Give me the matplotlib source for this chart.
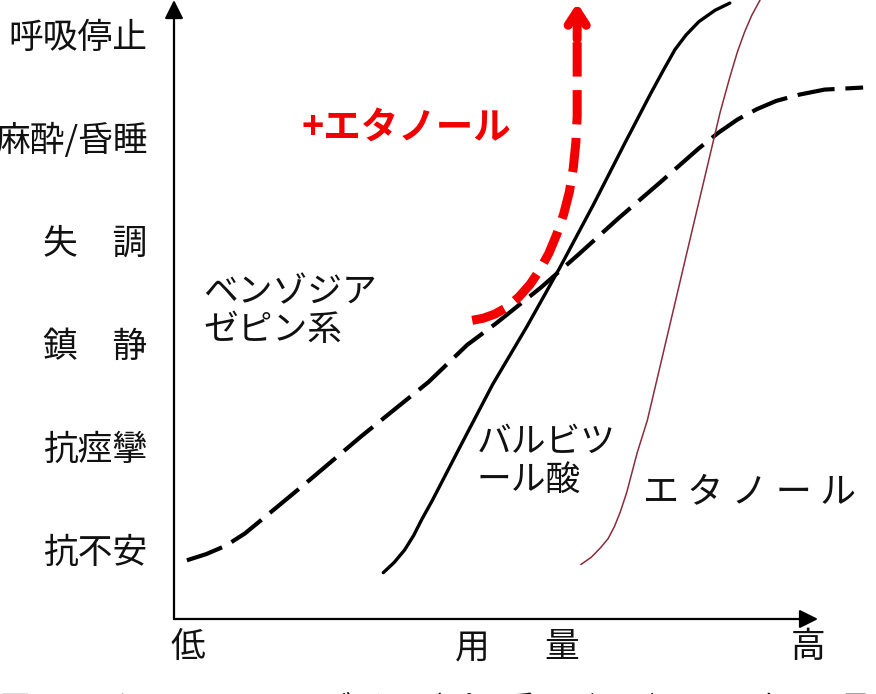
import matplotlib
matplotlib.use("Agg")
import matplotlib.pyplot as plt

plt.rcParams['font.family'] = ['Noto Sans CJK JP', 'DejaVu Sans']

## effect levels (y axis)
levels = [1, 2, 3, 4, 5, 6]
level_labels = ["抗不安", "抗痙攣", "鎮　静", "失　調", "麻酔/昏睡", "呼吸停止"]

## dose axis labels
dose_ticks = [0.22, 4.63, 6.02, 9.84]
dose_labels = ["低", "用", "量", "高"]

## benzodiazepine (dashed)
bzd_dose = [0.2, 0.5, 0.8, 1.1, 1.45, 2.05, 2.9, 3.95, 4.55, 5.0, 5.7, 6.3,
            6.9, 7.55, 8.15, 8.45, 8.75, 9.05, 9.35, 9.7, 10.1, 10.7]
bzd_effect = [0.89, 0.95, 1.03, 1.15, 1.33, 1.64, 2.09, 2.62, 2.98, 3.19, 3.54,
              3.87, 4.21, 4.56, 4.89, 5.04, 5.17, 5.27, 5.35, 5.41, 5.46, 5.48]

## barbiturate (solid)
barb_dose = [3.25, 3.42, 3.58, 3.72, 3.85, 4.01, 4.44, 4.95, 5.48, 5.99, 6.51,
             7.0, 7.4, 7.6, 7.78, 7.95, 8.15, 8.4, 8.63]
barb_effect = [0.77, 0.87, 0.99, 1.13, 1.29, 1.47, 1.99, 2.6, 3.16, 3.73, 4.34,
               4.94, 5.42, 5.65, 5.85, 5.99, 6.12, 6.23, 6.3]

## ethanol (thin)
eth_dose = [6.32, 6.48, 6.62, 6.74, 6.84, 6.93, 7.03, 7.19, 7.35, 8.01, 8.48,
            8.63, 8.75, 8.86, 8.97, 9.1]
eth_effect = [0.85, 0.92, 1.01, 1.1, 1.22, 1.36, 1.55, 1.93, 2.25, 4.0, 5.24,
              5.58, 5.83, 6.02, 6.18, 6.33]

## + ethanol (red arrow)
plus_dose = [4.63, 4.8, 4.98, 5.18, 5.36, 5.53, 5.68, 5.82, 5.94, 6.05, 6.14,
             6.2, 6.24, 6.26, 6.26, 6.26]
plus_effect = [3.22, 3.24, 3.28, 3.35, 3.45, 3.57, 3.71, 3.87, 4.05, 4.25, 4.47,
               4.7, 4.95, 5.2, 5.6, 5.95]
plus_tip = (6.26, 6.3)

Y0 = 0.32     # where the dose axis sits
X_END = 10.0  # tip of the dose axis

fig = plt.figure(figsize=(8.76, 6.94), dpi=100)
ax = fig.add_axes([174 / 876, 75 / 694, 702 / 876, 619 / 694])
ax.set_xlim(0, 10.9)
ax.set_ylim(Y0, 6.33)
for s in ax.spines.values():
    s.set_visible(False)

ax.set_yticks(levels, level_labels, fontsize=25, color='#111111')
ax.set_xticks(dose_ticks, dose_labels, fontsize=25, color='#111111')
ax.tick_params(axis='y', length=0, pad=19)
ax.tick_params(axis='x', length=0, pad=8)

# axes with arrows
arrow_kw = dict(arrowstyle='-|>', color='black', lw=1.6, mutation_scale=28,
                shrinkA=0, shrinkB=0)
ax.annotate('', xy=(0, 6.33), xytext=(0, Y0), arrowprops=arrow_kw,
            annotation_clip=False)
ax.annotate('', xy=(X_END, Y0), xytext=(0, Y0), arrowprops=arrow_kw,
            annotation_clip=False)

# curves
ax.plot(bzd_dose, bzd_effect, color='black', lw=3, dashes=(9, 2.6),
        solid_joinstyle='round', dash_joinstyle='round', clip_on=False)
ax.plot(barb_dose, barb_effect, color='black', lw=2.4,
        solid_joinstyle='round', solid_capstyle='round', clip_on=False)
ax.plot(eth_dose, eth_effect, color='#8a2c3c', lw=1.1, clip_on=False)

red = '#f20000'
ax.plot(plus_dose, plus_effect, color=red, lw=6.5, dashes=(3.8, 1.5),
        dash_joinstyle='round', clip_on=False)
ax.annotate('', xy=plus_tip, xytext=(plus_dose[-1], plus_effect[-1]),
            arrowprops=dict(arrowstyle='->,head_length=1.0,head_width=0.65',
                            color=red, lw=6.5, shrinkA=0, shrinkB=0,
                            capstyle='round', joinstyle='round'),
            annotation_clip=False)

# labels
ax.text(1.98, 5.1, "+エタノール", color=red, fontsize=27, fontweight='bold',
        va='center', ha='left')
ax.text(0.45, 3.3, "ベンゾジア\nゼピン系", color='#111111', fontsize=25,
        va='center', ha='left', linespacing=1.1)
ax.text(4.7, 1.85, "バルビツ\nール酸", color='#111111', fontsize=25,
        va='center', ha='left', linespacing=1.1)
ax.text(7.28, 1.55, "エ タ ノ ー ル", color='#111111', fontsize=26,
        va='center', ha='left')

# caption (cut by the bottom edge)
fig.text(0.0, 1 - 694 / 694, "図1　エタノール、ベンゾジアゼピン系、バルビツール酸の用量－作用曲線",
         fontsize=22, va='top', ha='left', color='#111111')

fig.savefig("out.png", dpi=100)
